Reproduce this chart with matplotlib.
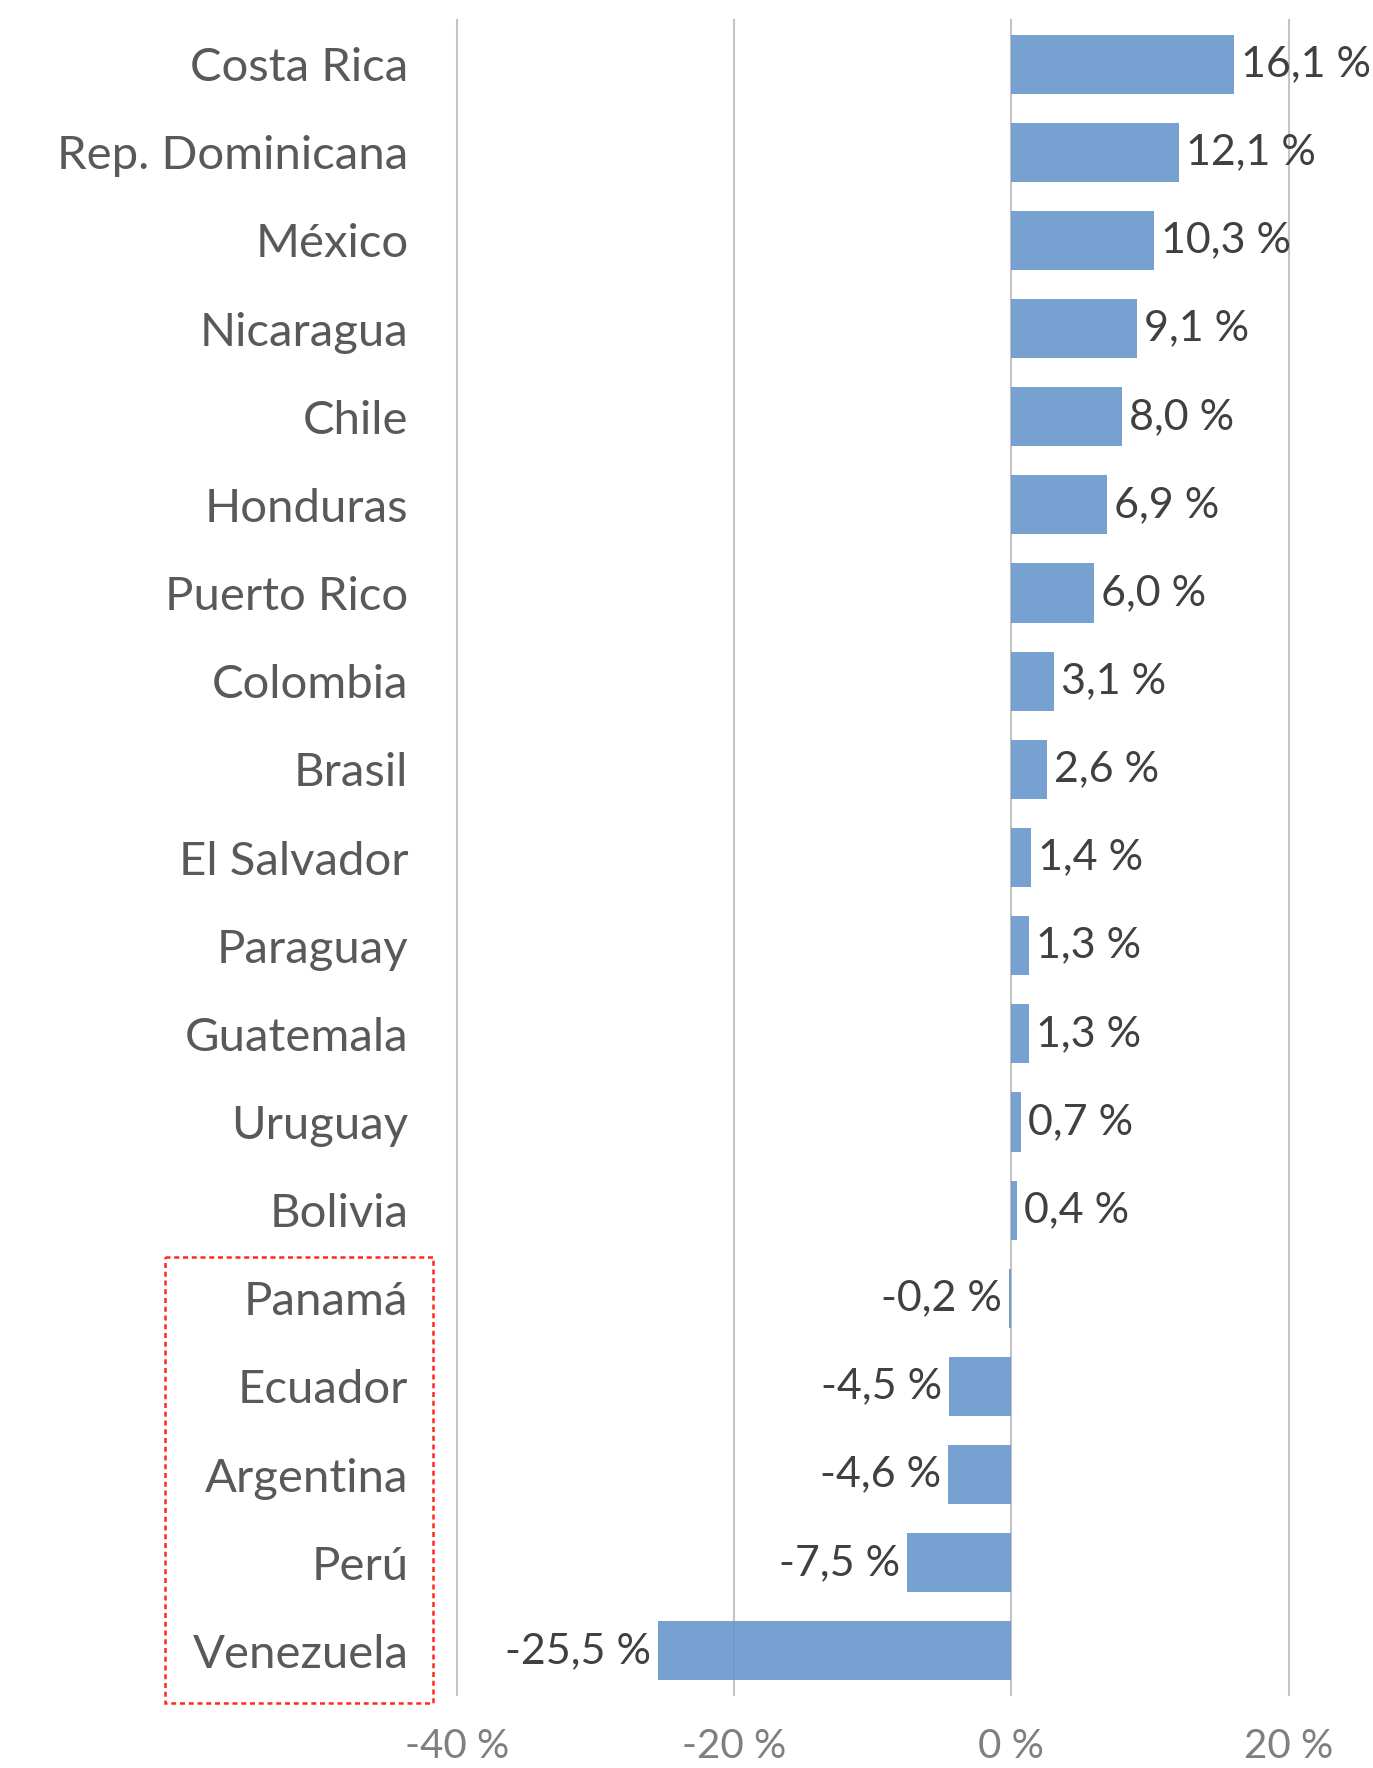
import matplotlib
matplotlib.use('Agg')
import matplotlib.pyplot as plt
import matplotlib.transforms as mtransforms
from matplotlib.patches import Rectangle

countries = ["Costa Rica", "Rep. Dominicana", "México", "Nicaragua", "Chile",
             "Honduras", "Puerto Rico", "Colombia", "Brasil", "El Salvador",
             "Paraguay", "Guatemala", "Uruguay", "Bolivia", "Panamá",
             "Ecuador", "Argentina", "Perú", "Venezuela"]
values = [16.1, 12.1, 10.3, 9.1, 8.0, 6.9, 6.0, 3.1, 2.6, 1.4,
          1.3, 1.3, 0.7, 0.4, -0.2, -4.5, -4.6, -7.5, -25.5]
x_ticks = [-40, -20, 0, 20]
highlighted = ["Panamá", "Ecuador", "Argentina", "Perú", "Venezuela"]

plt.rcParams['font.family'] = ['Lato', 'DejaVu Sans']

W, H, DPI = 1373, 1768, 100
fig = plt.figure(figsize=(W / DPI, H / DPI), dpi=DPI)
ax = fig.add_axes([457 / W, 1 - 1695 / H, 831.5 / W, 1675 / H])

pos = list(range(len(countries)))
ax.barh(pos, values, height=0.67, color='#6897CC', alpha=0.9, zorder=3)
ax.set_ylim(len(countries) - 0.5, -0.5)
ax.set_xlim(-40, 20)

ax.set_yticks(pos)
ax.set_yticklabels(countries, fontsize=34, color='#595959')
ax.set_xticks(x_ticks)
ax.set_xticklabels(["{} %".format(t) for t in x_ticks], fontsize=29, color='#7f7f7f')
ax.tick_params(axis='y', length=0, pad=35)
ax.tick_params(axis='x', length=0, pad=24)
for s in ax.spines.values():
    s.set_visible(False)
ax.grid(axis='x', color='#c4c4c4', linewidth=1.5, zorder=4)
ax.set_axisbelow(False)
for gl in ax.xaxis.get_gridlines():
    gl.set_clip_on(False)

for p, v in zip(pos, values):
    label = "{:.1f} %".format(v).replace(".", ",")
    if v >= 0:
        ax.annotate(label, (v, p), xytext=(5, 0), textcoords='offset points',
                    ha='left', va='center', fontsize=31, color='#404040', zorder=5)
    else:
        ax.annotate(label, (v, p), xytext=(-5, 0), textcoords='offset points',
                    ha='right', va='center', fontsize=31, color='#404040', zorder=5)

# dotted box around the countries with negative growth
first = countries.index(highlighted[0])
last = countries.index(highlighted[-1])
trans = mtransforms.blended_transform_factory(ax.transAxes, ax.transData)
box = Rectangle((-0.351, first - 0.47), 0.322, last - first + 1.06, transform=trans,
                fill=False, edgecolor='#ff2a1a', linewidth=1.8, linestyle=(0, (2, 1.5)),
                clip_on=False)
ax.add_patch(box)

fig.savefig("out.png", dpi=DPI)
